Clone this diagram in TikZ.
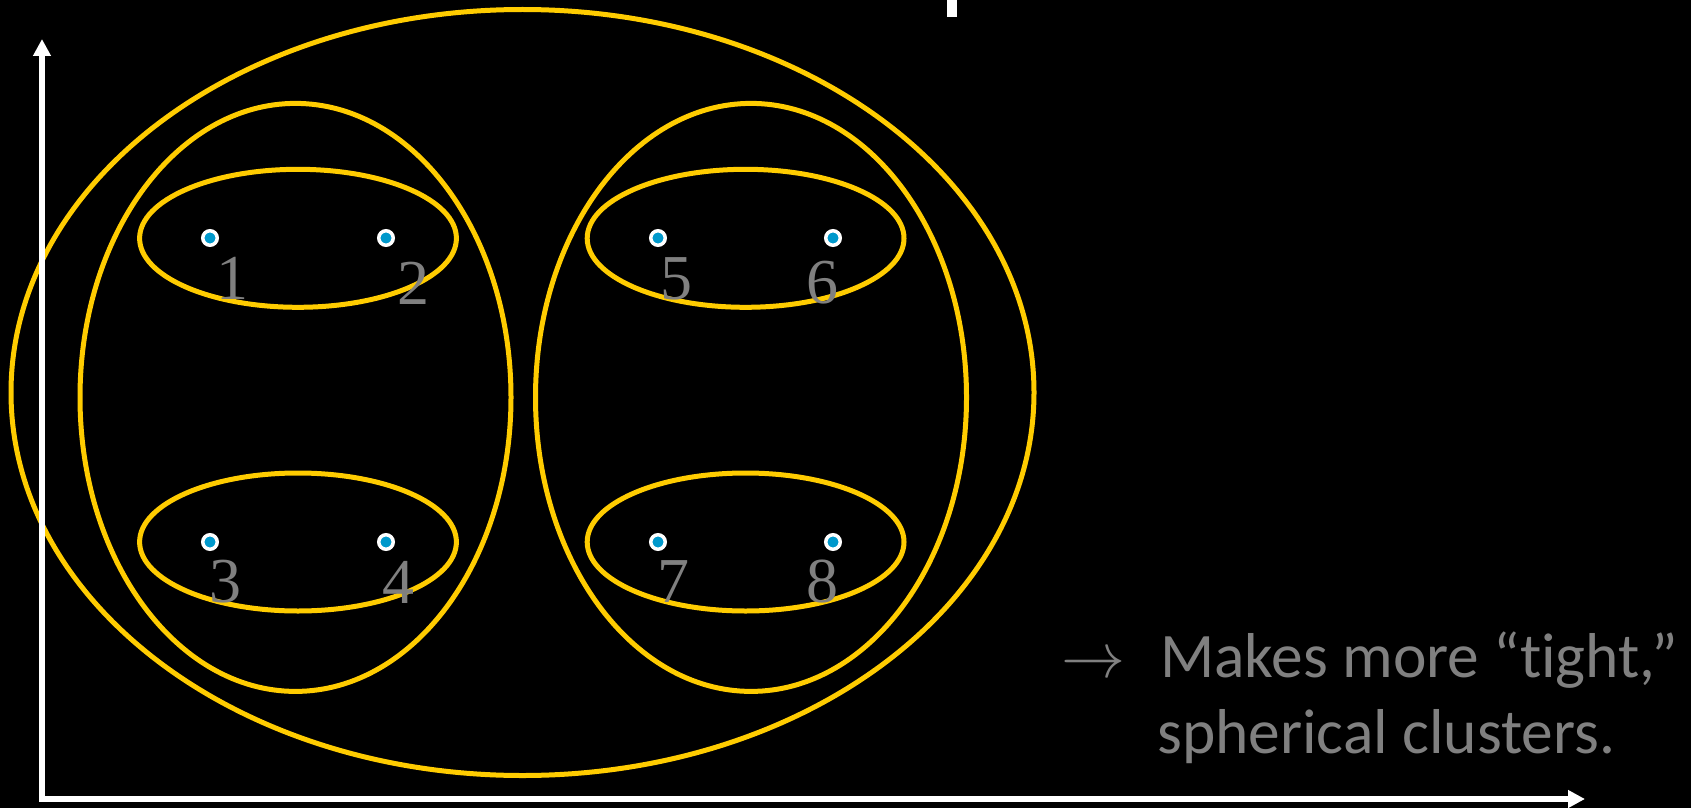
\documentclass[tikz,border=0pt]{standalone}
\usepackage{fontspec}
\setmainfont{Liberation Serif}
\newfontfamily\notefont[Ligatures=NoCommon]{Carlito}
\usetikzlibrary{arrows.meta,positioning,shapes.geometric}
\definecolor{ringyellow}{RGB}{255,204,0}
\definecolor{dotblue}{RGB}{0,153,204}
\definecolor{labelgray}{RGB}{128,128,128}

\begin{document}
\begin{tikzpicture}[
  x=0.5pt, y=-0.5pt,
  ring/.style={draw=ringyellow, line width=2.5pt, ellipse, inner sep=0pt},
  small/.style={ring, minimum width=158.4pt, minimum height=69pt},
  mid/.style={ring, minimum width=215.5pt, minimum height=294pt},
  dot/.style={circle, draw=white, fill=dotblue, line width=1.75pt, minimum size=7.25pt, inner sep=0pt},
  num/.style={text=labelgray, font=\fontsize{32}{36}\selectfont, inner sep=0pt},
  axis/.style={white, line width=2.8pt, -{Triangle[length=8.5pt, width=8.5pt]}},
  note/.style={text=labelgray, font=\notefont\fontsize{31.7}{38}\selectfont, inner sep=0pt, anchor=base west}
]
  \fill[black] (0,0) rectangle (1691,808);
  \useasboundingbox (0,0) rectangle (1691,808);
  \fill[white] (947,0) rectangle (957,17);

  \node[ring, minimum width=511.5pt, minimum height=383pt] (all) at (522.5,392.5) {};
  \node[mid] (left) at (295.5,397.4) {};
  \node[mid] (right) at (751,397.4) {};
  \node[small] (c12) at (298,238.3) {};
  \node[small] (c34) at (298,542) {};
  \node[small] (c56) at (745.6,238.3) {};
  \node[small] (c78) at (745.6,542) {};

  \node[dot] (p1) at (210,238) {};
  \node[dot] (p2) at (386,238) {};
  \node[dot] (p3) at (210,542) {};
  \node[dot] (p4) at (386,542) {};
  \node[dot] (p5) at (658,238) {};
  \node[dot] (p6) at (833,238) {};
  \node[dot] (p7) at (658,542) {};
  \node[dot] (p8) at (833,542) {};

  \node[num] (n1) at (232,278) {1};
  \node[num] (n2) at (413,283) {2};
  \node[num] (n3) at (225,582) {3};
  \node[num] (n4) at (398,582) {4};
  \node[num] (n5) at (676,279) {5};
  \node[num] (n6) at (822,283) {6};
  \node[num] (n7) at (673,582) {7};
  \node[num] (n8) at (822,582) {8};

  \coordinate (o) at (42,799);
  \coordinate (ytip) at (42,39);
  \coordinate (xtip) at (1585,799);
  \draw[axis] ([yshift=-1.4pt]o) -- (ytip);
  \draw[axis] ([xshift=-1.4pt]o) -- (xtip);

  \node[note, font=\normalsize] (arr) at (1061,677) {\scalebox{3.2}{$\rightarrow$}};
  \node[note] (line1) at (1160,677) {Makes more “tight,”};
  \node[note] (line2) at (1157,753) {spherical clusters.};
\end{tikzpicture}
\end{document}
